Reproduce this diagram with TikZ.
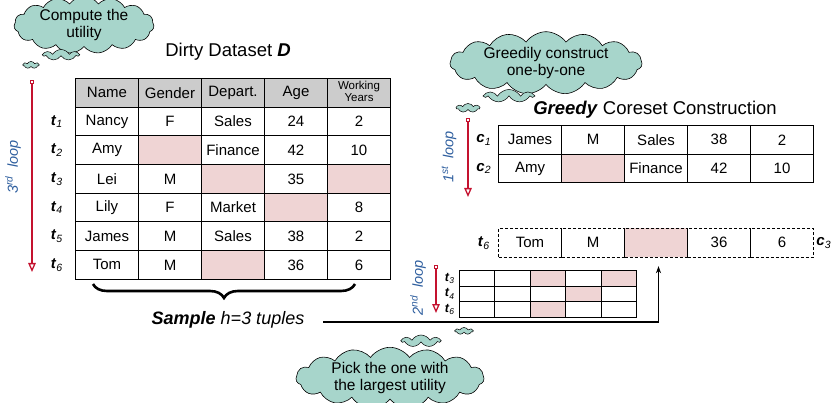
\documentclass[tikz,border=0pt]{standalone}
\usepackage{fontspec}
\setmainfont{Liberation Sans}
\usetikzlibrary{matrix,shapes.symbols,arrows.meta,decorations.pathreplacing,calc}
\definecolor{cloudc}{HTML}{A7D5CB}
\definecolor{pinkc}{HTML}{EFD4D4}
\definecolor{hdrc}{HTML}{CCCCCC}
\definecolor{loopblue}{HTML}{2E5E9E}
\definecolor{loopred}{HTML}{C4122F}
\newcommand\tlab[2]{\textbf{\textit{#1}}\raisebox{-0.35ex}{\fontsize{10.5}{10.5}\selectfont\textit{#2}}}
\newcommand\tlabs[2]{\textbf{\textit{#1}}\raisebox{-0.35ex}{\fontsize{8.5}{8.5}\selectfont\textit{#2}}}
\newcommand\cellfont{\fontsize{15}{18}\selectfont}
\begin{document}
\begin{tikzpicture}[x=1pt,y=-1pt,
  tbl/.style={matrix of nodes, nodes in empty cells, anchor=north west,
    inner sep=0pt, outer sep=0pt, column sep=-1pt, row sep=-1pt,
    nodes={draw=black, line width=1pt, minimum width=63pt, minimum height=28.67pt,
      inner sep=0pt, font=\cellfont, anchor=center}},
  pk/.style={fill=pinkc},
  rowlab/.style={font=\fontsize{15}{18}\selectfont, inner sep=0pt},
  rowlabs/.style={font=\fontsize{12.5}{14}\selectfont, inner sep=0pt},
  looplab/.style={font=\fontsize{14.5}{16}\selectfont\itshape, text=loopblue, rotate=90, inner sep=0pt},
  looparrow/.style={draw=loopred, line width=1.3pt,
    {Square[open,length=4pt,width=4pt]}-{Triangle[open,length=9pt,width=7.5pt]}},
  bigcloud/.style={cloud, cloud puffs=15, cloud puff arc=110, cloud ignores aspect,
    draw=black, line width=0.6pt, fill=cloudc, inner sep=0pt, align=center,
    font=\fontsize{15.5}{18}\selectfont},
  smallcloud/.style={cloud, cloud puffs=7, cloud puff arc=120, cloud ignores aspect,
    draw=black, line width=0.5pt, fill=cloudc, inner sep=0pt},
  titlefont/.style={font=\fontsize{18.5}{22}\selectfont, inner sep=0pt}
]
\useasboundingbox (0,0) rectangle (832,403);

% ---------- clouds ----------
\node[bigcloud, minimum width=140pt, minimum height=42pt] (cl1) at (84,25) {Compute the\\[-1pt]utility};
\node[smallcloud, minimum width=35pt, minimum height=11pt] (cl1a) at (61,55) {};
\node[smallcloud, minimum width=16pt, minimum height=7pt] (cl1b) at (31,65) {};

\node[bigcloud, minimum width=192pt, minimum height=48pt] (cl2) at (546,63) {Greedily construct\\[-1pt]one-by-one};
\node[smallcloud, minimum width=48pt, minimum height=13pt] (cl2a) at (509,96) {};
\node[smallcloud, minimum width=23pt, minimum height=9pt] (cl2b) at (468,108) {};

\node[bigcloud, minimum width=188pt, minimum height=52pt] (cl3) at (390,378) {Pick the one with\\[-1pt]the largest utility};
\node[smallcloud, minimum width=38pt, minimum height=12pt] (cl3a) at (421,341) {};
\node[smallcloud, minimum width=18pt, minimum height=7pt] (cl3b) at (464,331) {};

% ---------- titles ----------
\node[titlefont] (tD) at (228,52) {Dirty Dataset \textbf{\textit{D}}};
\node[titlefont] (tG) at (655,110) {\textbf{\textit{Greedy}} Coreset Construction};

% ---------- dirty dataset ----------
\matrix (D) at (75,78) [tbl, row 1/.style={nodes={fill=hdrc}}] {
Name & Gender & Depart. & Age & |[font=\fontsize{11.5}{12.5}\selectfont]| {\begin{tabular}{@{}c@{}}Working\\Years\end{tabular}} \\
Nancy & F & Sales & 24 & 2 \\
Amy & |[pk]| & Finance & 42 & 10 \\
Lei & M & |[pk]| & 35 & |[pk]| \\
Lily & F & Market & |[pk]| & 8 \\
James & M & Sales & 38 & 2 \\
Tom & M & |[pk]| & 36 & 6 \\
};
\foreach \r/\n in {2/1,3/2,4/3,5/4,6/5,7/6}
  \node[rowlab] (lt\n) at ([xshift=-19pt]D-\r-1.west) {\tlab{t}{\n}};

\coordinate (l3s) at (32,80);
\coordinate (l3e) at (32,272);
\draw[looparrow] (l3s) -- (l3e);
\node[looplab] (l3) at (13,167) {3\textsuperscript{rd}\ \ loop};

% brace and sample
\coordinate (bl) at (93,284);
\coordinate (br) at (355,284);
\draw[decorate, decoration={brace, mirror, amplitude=14pt}, line width=2.6pt] (bl) -- (br);
\node[font=\fontsize{18}{20}\selectfont, inner sep=0pt] (samp) at (228,320) {\textbf{\textit{Sample}} \textit{h=3 tuples}};

% ---------- coreset ----------
\matrix (C) at (498,125) [tbl] {
James & M & Sales & 38 & 2 \\
Amy & |[pk]| & Finance & 42 & 10 \\
};
\node[rowlab] (lc1) at ([xshift=-15pt]C-1-1.west) {\tlab{c}{1}};
\node[rowlab] (lc2) at ([xshift=-15pt]C-2-1.west) {\tlab{c}{2}};
\coordinate (l1s) at (468,118);
\coordinate (l1e) at (468,197);
\draw[looparrow] (l1s) -- (l1e);
\node[looplab] (l1) at (449,157) {1\textsuperscript{st}\ \ loop};

% ---------- candidate t6 (dashed) ----------
\matrix (T) at (498,228) [tbl, nodes={dashed, dash pattern=on 3pt off 2pt}] {
Tom & M & |[pk]| & 36 & 6 \\
};
\node[rowlab] (lt6b) at ([xshift=-15pt]T-1-1.west) {\tlab{t}{6}};
\node[rowlab] (lc3) at ([xshift=10pt]T-1-5.east) {\tlab{c}{3}};

% ---------- sampled tuples ----------
\matrix (S) at (459,270) [tbl, nodes={minimum width=35.4pt, minimum height=15.67pt}] {
 & & |[pk]| & & |[pk]| \\
 & & & |[pk]| & \\
 & & |[pk]| & & \\
};
\node[rowlabs] (s3) at ([xshift=-10pt]S-1-1.west) {\tlabs{t}{3}};
\node[rowlabs] (s4) at ([xshift=-10pt]S-2-1.west) {\tlabs{t}{4}};
\node[rowlabs] (s6) at ([xshift=-10pt]S-3-1.west) {\tlabs{t}{6}};
\coordinate (l2s) at (436,265);
\coordinate (l2e) at (436,313);
\draw[looparrow] (l2s) -- (l2e);
\node[looplab] (l2) at (418,288) {2\textsuperscript{nd}\ \ loop};

% ---------- connector ----------
\coordinate (ls) at (323,322);
\draw[line width=1.2pt, -{Stealth[length=7pt,width=5pt]}] (ls) -| ([xshift=2.5pt,yshift=-9pt]T-1-3.south);
\end{tikzpicture}
\end{document}
